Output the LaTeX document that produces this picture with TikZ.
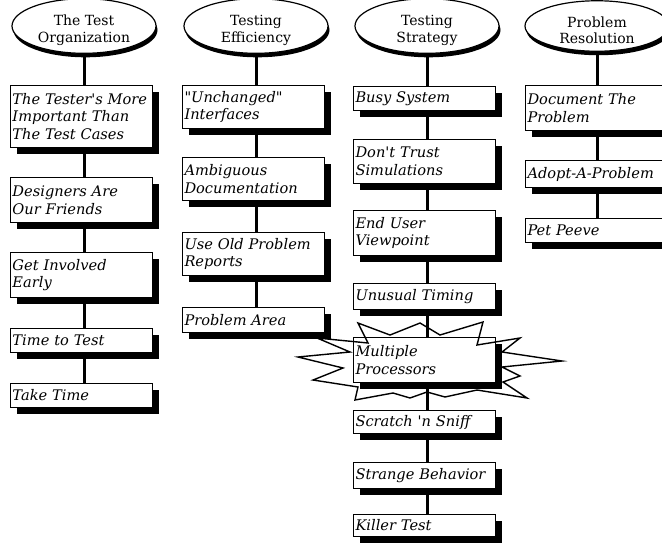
\documentclass[tikz,border=0pt]{standalone}
\usepackage{fontspec}
\setmainfont{DejaVu Serif}[Ligatures=TeXOff]
\usetikzlibrary{shapes.geometric,shadows}
\tikzset{
  box/.style={draw, line width=1pt, fill=white, anchor=north west,
    minimum width=142pt, text width=138pt, inner xsep=2pt, inner ysep=0pt,
    align=left, font=\itshape\fontsize{14.6}{17.5}\selectfont,
    general shadow={fill=black, shadow xshift=6pt, shadow yshift=-6pt}},
  topic/.style={ellipse, draw, line width=1.2pt, fill=white,
    minimum width=144pt, minimum height=42pt, inner sep=0pt, align=center,
    font=\fontsize{14}{16.5}\selectfont,
    general shadow={fill=black, shadow xshift=1.5pt, shadow yshift=-4pt}},
  conn/.style={line width=3pt},
  burst/.style={line width=1.4pt, line join=miter}
}
\newcommand{\toppad}{\rule{0pt}{19pt}}
\begin{document}
\begin{tikzpicture}[x=1pt,y=-1pt]
\path[use as bounding box] (0,0) rectangle (662,544);
\clip (0,0) rectangle (662,544);
\fill[white] (0,0) rectangle (662,544);
% topics
\node[topic] (e1) at (84,26) {\toppad The Test\\Organization};
\node[topic] (e2) at (256,26) {\toppad Testing\\Efficiency};
\node[topic] (e3) at (427,26) {\toppad Testing\\Strategy};
\node[topic] (e4) at (597,26) {\toppad Problem\\Resolution};
% column 1
\node[box, minimum height=62pt] (b11) at (10,85) {The Tester's More\\Important Than\\The Test Cases};
\node[box, minimum height=45pt] (b12) at (10,177) {Designers Are\\Our Friends};
\node[box, minimum height=45pt] (b13) at (10,252) {Get Involved\\Early};
\node[box, minimum height=24pt] (b14) at (10,328) {Time to Test};
\node[box, minimum height=24pt] (b15) at (10,383) {Take Time};
% column 2
\node[box, minimum height=43pt] (b21) at (182,85) {"Unchanged"\\Interfaces};
\node[box, minimum height=43pt] (b22) at (182,157) {Ambiguous\\Documentation};
\node[box, minimum height=43pt] (b23) at (182,232) {Use Old Problem\\Reports};
\node[box, minimum height=25pt] (b24) at (182,307) {Problem Area};
% column 3
\node[box, minimum height=24pt] (b31) at (353,86) {Busy System};
\node[box, minimum height=44pt] (b32) at (353,139) {Don't Trust\\Simulations};
\node[box, minimum height=45pt] (b33) at (353,210) {End User\\Viewpoint};
\node[box, minimum height=26pt] (b34) at (353,283) {Unusual Timing};
\node[box, minimum height=45pt] (b35) at (353,337) {Multiple\\Processors};
\node[box, minimum height=23pt] (b36) at (353,410) {Scratch 'n Sniff};
\node[box, minimum height=26pt] (b37) at (353,462) {Strange Behavior};
\node[box, minimum height=22pt] (b38) at (353,514) {Killer Test};
% column 4
\node[box, minimum height=45pt] (b41) at (525,85) {Document The\\Problem};
\node[box, minimum height=27pt] (b42) at (525,160) {Adopt-A-Problem};
\node[box, minimum height=24pt] (b43) at (525,218) {Pet Peeve};
% connectors
\draw[conn] (e1.south) -- (e1.south |- b11.north);
\draw[conn] (b11.south -| e1) -- (b12.north -| e1);
\draw[conn] (b12.south -| e1) -- (b13.north -| e1);
\draw[conn] (b13.south -| e1) -- (b14.north -| e1);
\draw[conn] (b14.south -| e1) -- (b15.north -| e1);
\draw[conn] (e2.south) -- (e2.south |- b21.north);
\draw[conn] (b21.south -| e2) -- (b22.north -| e2);
\draw[conn] (b22.south -| e2) -- (b23.north -| e2);
\draw[conn] (b23.south -| e2) -- (b24.north -| e2);
\draw[conn] (e3.south) -- (e3.south |- b31.north);
\draw[conn] (b31.south -| e3) -- (b32.north -| e3);
\draw[conn] (b32.south -| e3) -- (b33.north -| e3);
\draw[conn] (b33.south -| e3) -- (b34.north -| e3);
\draw[conn] (b34.south -| e3) -- (b35.north -| e3);
\draw[conn] (b35.south -| e3) -- (b36.north -| e3);
\draw[conn] (b36.south -| e3) -- (b37.north -| e3);
\draw[conn] (b37.south -| e3) -- (b38.north -| e3);
\draw[conn] (e4.south) -- (e4.south |- b41.north);
\draw[conn] (b41.south -| e4) -- (b42.north -| e4);
\draw[conn] (b42.south -| e4) -- (b43.north -| e4);
% starburst
\draw[burst] (358,323) -- (390,335) -- (420,323) -- (440,335) -- (483,322)
  -- (477,345) -- (520,338) -- (502,352) -- (562,361) -- (502,367)
  -- (520,376) -- (503,382) -- (527,398) -- (477,390) -- (445,397)
  -- (427,392) -- (410,398) -- (393,393) -- (355,400) -- (358,387)
  -- (313,380) -- (343,368) -- (298,357) -- (350,352) -- (317,338)
  -- (368,343) -- cycle;
\end{tikzpicture}
\end{document}
